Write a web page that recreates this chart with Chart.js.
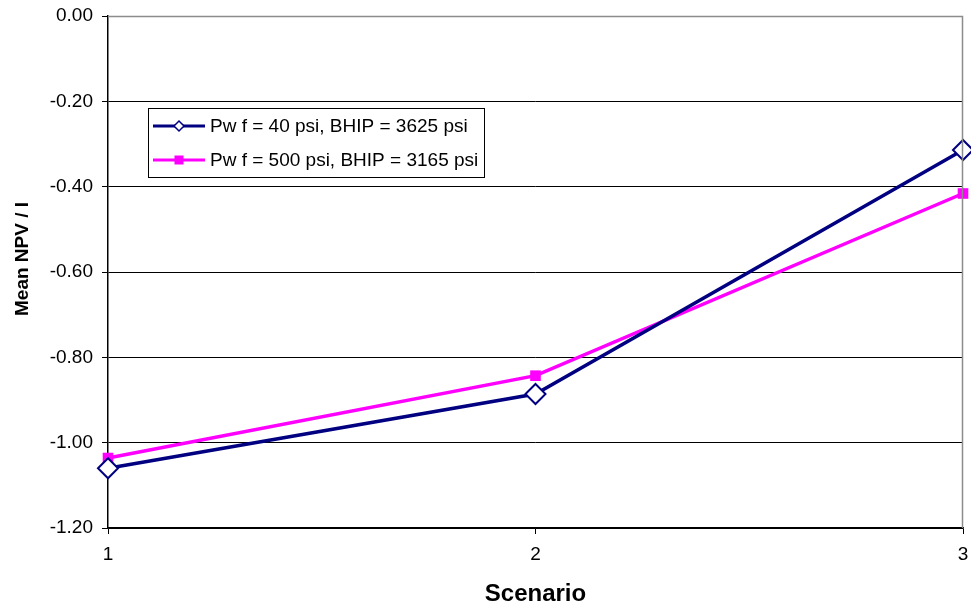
<!DOCTYPE html>
<html>
<head>
<meta charset="utf-8">
<script src="https://cdn.jsdelivr.net/npm/chart.js@4.4.1/dist/chart.umd.min.js"></script>
<style>
  html, body { margin: 0; padding: 0; background: #fff; }
  #wrap { width: 971px; height: 611px; }
</style>
</head>
<body>
<div id="wrap"><canvas id="c" width="971" height="611"></canvas></div>
<script>
const scenarios = ['1', '2', '3'];
const pwf40 = [-1.06, -0.886, -0.314];
const pwf500 = [-1.036, -0.843, -0.416];
const seriesNames = ['Pw f = 40 psi, BHIP = 3625 psi', 'Pw f = 500 psi, BHIP = 3165 psi'];
const yTicks = [0, -0.2, -0.4, -0.6, -0.8, -1.0, -1.2];
const yTitle = 'Mean NPV / I';
const xTitle = 'Scenario';

const FONT = 'Liberation Sans, Arial, sans-serif';

// Frame: grey top and right borders around the plot area
const framePlugin = {
  id: 'frame',
  afterDraw(chart) {
    const { ctx, chartArea: a } = chart;
    ctx.save();
    ctx.strokeStyle = '#8c8c8c';
    ctx.lineWidth = 1.5;
    ctx.beginPath();
    ctx.moveTo(a.left, a.top + 0.5);
    ctx.lineTo(a.right - 0.5, a.top + 0.5);
    ctx.lineTo(a.right - 0.5, a.bottom);
    ctx.stroke();
    ctx.restore();
  }
};

// Vertical value-axis title
const yTitlePlugin = {
  id: 'yTitle',
  afterDraw(chart) {
    const { ctx } = chart;
    ctx.save();
    ctx.translate(23, 259);
    ctx.rotate(-Math.PI / 2);
    ctx.fillStyle = '#000';
    ctx.font = 'bold 19px ' + FONT;
    ctx.textAlign = 'center';
    ctx.textBaseline = 'middle';
    ctx.fillText(yTitle, 0, 0);
    ctx.restore();
  }
};

// Boxed legend inside the plot area
const boxLegend = {
  id: 'boxLegend',
  afterDraw(chart) {
    const { ctx, chartArea: a } = chart;
    const x = a.left + 40, y = a.top + 92, w = 336, h = 69;
    ctx.save();
    ctx.fillStyle = '#fff';
    ctx.fillRect(x, y, w, h);
    ctx.strokeStyle = '#000';
    ctx.lineWidth = 1;
    ctx.strokeRect(x + 0.5, y + 0.5, w, h);
    chart.data.datasets.forEach((ds, i) => {
      const cy = y + 18 + i * 34;
      ctx.strokeStyle = ds.borderColor;
      ctx.lineWidth = 3;
      ctx.beginPath();
      ctx.moveTo(x + 5, cy);
      ctx.lineTo(x + 57, cy);
      ctx.stroke();
      const mx = x + 31;
      if (ds.pointStyle === 'rectRot') {
        ctx.fillStyle = '#fff';
        ctx.strokeStyle = ds.borderColor;
        ctx.lineWidth = 1.5;
        ctx.beginPath();
        ctx.moveTo(mx, cy - 5);
        ctx.lineTo(mx + 5, cy);
        ctx.lineTo(mx, cy + 5);
        ctx.lineTo(mx - 5, cy);
        ctx.closePath();
        ctx.fill();
        ctx.stroke();
      } else {
        ctx.fillStyle = ds.borderColor;
        ctx.fillRect(mx - 4.5, cy - 4.5, 9, 9);
      }
      ctx.fillStyle = '#000';
      ctx.font = '19px ' + FONT;
      ctx.textBaseline = 'middle';
      ctx.textAlign = 'left';
      ctx.fillText(ds.label, x + 62, cy + 1);
    });
    ctx.restore();
  }
};

new Chart(document.getElementById('c'), {
  type: 'line',
  data: {
    labels: scenarios,
    datasets: [
      {
        label: seriesNames[0],
        data: pwf40,
        borderColor: '#000080',
        backgroundColor: '#ffffff',
        borderWidth: 3.5,
        pointStyle: 'rectRot',
        pointRadius: 10,
        pointBorderWidth: 2,
        pointBackgroundColor: '#ffffff',
        pointBorderColor: '#000080',
        tension: 0,
        clip: false
      },
      {
        label: seriesNames[1],
        data: pwf500,
        borderColor: '#ff00ff',
        backgroundColor: '#ff00ff',
        borderWidth: 3.5,
        pointStyle: 'rect',
        pointRadius: 7.5,
        pointBorderWidth: 0,
        pointBackgroundColor: '#ff00ff',
        tension: 0,
        clip: false
      }
    ]
  },
  options: {
    responsive: false,
    animation: false,
    layout: { autoPadding: false, padding: { top: 16, right: 8, left: 0, bottom: 0 } },
    plugins: {
      legend: { display: false },
      tooltip: { enabled: false }
    },
    scales: {
      x: {
        type: 'category',
        offset: false,
        grid: {
          display: true,
          drawOnChartArea: false,
          drawTicks: true,
          tickLength: 6,
          color: '#000'
        },
        border: { display: true, color: '#000', width: 1.5 },
        ticks: {
          color: '#000',
          font: { family: FONT, size: 19 },
          padding: 9,
          maxRotation: 0
        },
        title: {
          display: true,
          text: xTitle,
          color: '#000',
          font: { family: FONT, size: 24, weight: 'bold' },
          padding: { top: 10, bottom: 2 }
        },
        afterFit(scale) {
          scale.height = 83;
          scale.paddingLeft = 0;
          scale.paddingRight = 0;
        }
      },
      y: {
        type: 'linear',
        min: -1.2,
        max: 0,
        afterBuildTicks(scale) {
          scale.ticks = yTicks.map(v => ({ value: v }));
        },
        grid: {
          color: ctx => (ctx.tick && ctx.tick.value === 0 ? 'rgba(0,0,0,0)' : '#000'),
          lineWidth: 1,
          drawTicks: true,
          tickLength: 6,
          tickColor: '#000'
        },
        border: { display: true, color: '#000', width: 1.5 },
        ticks: {
          color: '#000',
          font: { family: FONT, size: 19 },
          padding: 9,
          callback: v => Number(v).toFixed(2)
        },
        afterFit(scale) {
          scale.width = 108;
          scale.paddingTop = 0;
          scale.paddingBottom = 0;
        }
      }
    }
  },
  plugins: [framePlugin, yTitlePlugin, boxLegend]
});
</script>
</body>
</html>
